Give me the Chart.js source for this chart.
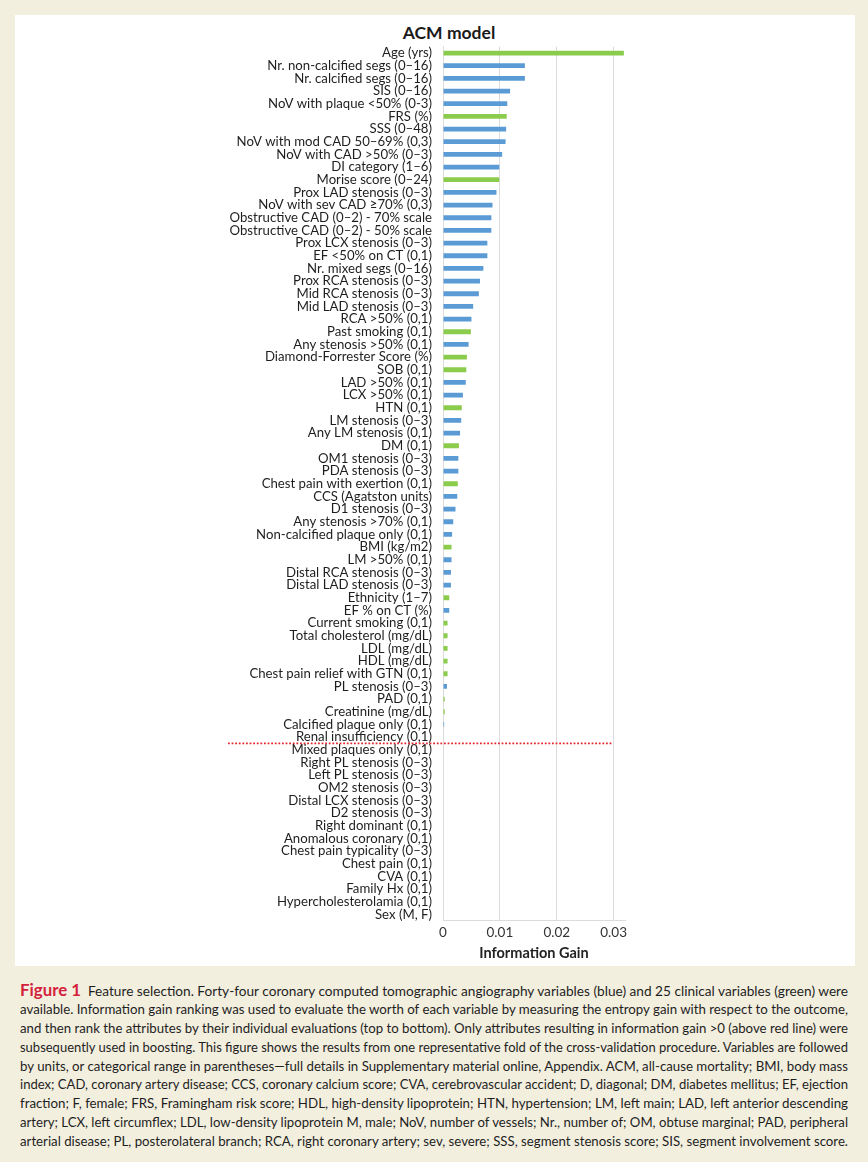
<!DOCTYPE html>
<html>
<head>
<meta charset="utf-8">
<script src="https://cdn.jsdelivr.net/npm/chart.js@4.4.0/dist/chart.umd.min.js"></script>
<style>
  body { margin: 0; width: 868px; height: 1162px; background: #f3efdf; position: relative; overflow: hidden; font-family: Lato, sans-serif; }
  #panel { position: absolute; left: 15px; top: 15px; width: 840px; height: 951px; background: #fff; }
  #title { position: absolute; left: 334px; top: 8px; width: 200px; text-align: center; font: bold 17.5px/20px Lato, sans-serif; color: #1a1a1a; }
  #chart { position: absolute; left: 0; top: 0; }
  #caption { position: absolute; left: 20px; top: 981px; width: 828px; color: #1e1e1e; font-size: 13.8px; }
  #caption div { height: 18.9px; line-height: 18.9px; white-space: nowrap; transform-origin: 0 50%; }
  #caption b { color: #d3213c; font-size: 17px; margin-right: 7px; }
</style>
</head>
<body>
<div id="panel">
  <div id="title">ACM model</div>
  <canvas id="chart" width="840" height="951"></canvas>
</div>
<div id="caption">
  <div><b>Figure 1</b>Feature selection. Forty-four coronary computed tomographic angiography variables (blue) and 25 clinical variables (green) were</div>
  <div>available. Information gain ranking was used to evaluate the worth of each variable by measuring the entropy gain with respect to the outcome,</div>
  <div>and then rank the attributes by their individual evaluations (top to bottom). Only attributes resulting in information gain &gt;0 (above red line) were</div>
  <div>subsequently used in boosting. This figure shows the results from one representative fold of the cross-validation procedure. Variables are followed</div>
  <div>by units, or categorical range in parentheses—full details in Supplementary material online, Appendix. ACM, all-cause mortality; BMI, body mass</div>
  <div>index; CAD, coronary artery disease; CCS, coronary calcium score; CVA, cerebrovascular accident; D, diagonal; DM, diabetes mellitus; EF, ejection</div>
  <div>fraction; F, female; FRS, Framingham risk score; HDL, high-density lipoprotein; HTN, hypertension; LM, left main; LAD, left anterior descending</div>
  <div>artery; LCX, left circumflex; LDL, low-density lipoprotein M, male; NoV, number of vessels; Nr., number of; OM, obtuse marginal; PAD, peripheral</div>
  <div>arterial disease; PL, posterolateral branch; RCA, right coronary artery; sev, severe; SSS, segment stenosis score; SIS, segment involvement score.</div>
</div>
<script>
const variables = [
  'Age (yrs)', 'Nr. non-calcified segs (0–16)', 'Nr. calcified segs (0–16)', 'SIS (0–16)',
  'NoV with plaque <50% (0-3)', 'FRS (%)', 'SSS (0–48)', 'NoV with mod CAD 50–69% (0,3)',
  'NoV with CAD >50% (0–3)', 'DI category (1–6)', 'Morise score (0–24)', 'Prox LAD stenosis (0–3)',
  'NoV with sev CAD ≥70% (0,3)', 'Obstructive CAD (0–2) - 70% scale', 'Obstructive CAD (0–2) - 50% scale',
  'Prox LCX stenosis (0–3)', 'EF <50% on CT (0,1)', 'Nr. mixed segs (0–16)', 'Prox RCA stenosis (0–3)',
  'Mid RCA stenosis (0–3)', 'Mid LAD stenosis (0–3)', 'RCA >50% (0,1)', 'Past smoking (0,1)',
  'Any stenosis >50% (0,1)', 'Diamond-Forrester Score (%)', 'SOB (0,1)', 'LAD >50% (0,1)', 'LCX >50% (0,1)',
  'HTN (0,1)', 'LM stenosis (0–3)', 'Any LM stenosis (0,1)', 'DM (0,1)', 'OM1 stenosis (0–3)',
  'PDA stenosis (0–3)', 'Chest pain with exertion (0,1)', 'CCS (Agatston units)', 'D1 stenosis (0–3)',
  'Any stenosis >70% (0,1)', 'Non-calcified plaque only (0,1)', 'BMI (kg/m2)', 'LM >50% (0,1)',
  'Distal RCA stenosis (0–3)', 'Distal LAD stenosis (0–3)', 'Ethnicity (1–7)', 'EF % on CT (%)',
  'Current smoking (0,1)', 'Total cholesterol (mg/dL)', 'LDL (mg/dL)', 'HDL (mg/dL)',
  'Chest pain relief with GTN (0,1)', 'PL stenosis (0–3)', 'PAD (0,1)', 'Creatinine (mg/dL)',
  'Calcified plaque only (0,1)', 'Renal insufficiency (0,1)', 'Mixed plaques only (0,1)',
  'Right PL stenosis (0–3)', 'Left PL stenosis (0–3)', 'OM2 stenosis (0–3)', 'Distal LCX stenosis (0–3)',
  'D2 stenosis (0–3)', 'Right dominant (0,1)', 'Anomalous coronary (0,1)', 'Chest pain typicality (0–3)',
  'Chest pain (0,1)', 'CVA (0,1)', 'Family Hx (0,1)', 'Hypercholesterolamia (0,1)', 'Sex (M, F)'
];

const infoGain = [
  0.0318, 0.0144, 0.0144, 0.0118, 0.0113, 0.0112, 0.0111, 0.0110,
  0.0104, 0.0099, 0.0099, 0.0094, 0.0087, 0.0085, 0.0085,
  0.0078, 0.0078, 0.0071, 0.0065, 0.0063, 0.0053, 0.0050, 0.0049,
  0.0045, 0.0042, 0.0041, 0.0040, 0.0035,
  0.0033, 0.0032, 0.0030, 0.0028, 0.0027, 0.0027, 0.0026, 0.0025, 0.0022,
  0.0018, 0.0016, 0.0015, 0.0015, 0.0014, 0.0014, 0.0011, 0.0011,
  0.0008, 0.0008, 0.0008, 0.0008, 0.0008, 0.0007, 0.0003, 0.0003,
  0.0002, 0.0001, 0, 0, 0, 0, 0, 0, 0, 0, 0, 0, 0, 0, 0, 0
];

// C = clinical (green), T = CT angiography (blue)
const varType = [
  'C', 'T', 'T', 'T', 'T', 'C', 'T', 'T',
  'T', 'T', 'C', 'T', 'T', 'T', 'T',
  'T', 'T', 'T', 'T', 'T', 'T', 'T', 'C',
  'T', 'C', 'C', 'T', 'T',
  'C', 'T', 'T', 'C', 'T', 'T', 'C', 'T', 'T',
  'T', 'T', 'C', 'T', 'T', 'T', 'C', 'T',
  'C', 'C', 'C', 'C', 'C', 'T', 'C', 'C',
  'T', 'C', 'T', 'T', 'T', 'T', 'T', 'T', 'T', 'T', 'C', 'C', 'C', 'C', 'C', 'C'
];

const xTicks = [0, 0.01, 0.02, 0.03];
const xTickLabels = ['0', '0.01', '0.02', '0.03'];

const blue = '#5b9bd5';
const green = '#8ccc4c';

// red dotted cut-off line below the last variable with gain > 0
const cutLine = {
  id: 'cutLine',
  afterDatasetsDraw(chart) {
    const { ctx, scales: { x, y } } = chart;
    let last = 0;
    infoGain.forEach((v, i) => { if (v > 0) last = i; });
    const yy = (y.getPixelForValue(last) + y.getPixelForValue(last + 1)) / 2;
    ctx.save();
    ctx.strokeStyle = '#e3262b';
    ctx.lineWidth = 1.8;
    ctx.setLineDash([1.8, 1.8]);
    ctx.beginPath();
    ctx.moveTo(x.left - 215, yy);
    ctx.lineTo(x.getPixelForValue(0.03) - 1, yy);
    ctx.stroke();
    ctx.restore();
  }
};

new Chart(document.getElementById('chart'), {
  type: 'bar',
  data: {
    labels: variables,
    datasets: [{
      data: infoGain,
      backgroundColor: varType.map(t => t === 'C' ? green : blue),
      barPercentage: 0.38,
      categoryPercentage: 1
    }]
  },
  options: {
    indexAxis: 'y',
    responsive: false,
    animation: false,
    layout: { padding: { top: 31.7, right: 230, bottom: 3.6, left: 0 } },
    plugins: { legend: { display: false }, tooltip: { enabled: false } },
    scales: {
      x: {
        min: 0,
        max: 0.032,
        afterBuildTicks: s => { s.ticks = xTicks.map(v => ({ value: v })); },
        ticks: {
          callback: v => xTickLabels[xTicks.indexOf(v)],
          font: { family: 'Lato', size: 13.5 },
          color: '#333',
          padding: 4
        },
        grid: { color: '#dcdcdc', drawTicks: false },
        border: { color: '#dcdcdc' },
        title: {
          display: true,
          text: 'Information Gain',
          font: { family: 'Lato', size: 14.5, weight: 'bold' },
          color: '#222',
          padding: { top: 0, bottom: 0 }
        }
      },
      y: {
        afterFit: s => { s.width = 428; },
        ticks: { autoSkip: false, font: { family: 'Lato', size: 13.2 }, color: '#1e1e1e', padding: 3 },
        grid: { display: false },
        border: { color: '#dcdcdc' }
      }
    }
  },
  plugins: [cutLine]
});

// fit each caption line to the justified width
document.querySelectorAll('#caption div').forEach(d => {
  d.style.display = 'inline-block';
  const w = d.getBoundingClientRect().width;
  d.style.display = 'block';
  d.style.transform = 'scaleX(' + (828 / w) + ')';
});
</script>
</body>
</html>
